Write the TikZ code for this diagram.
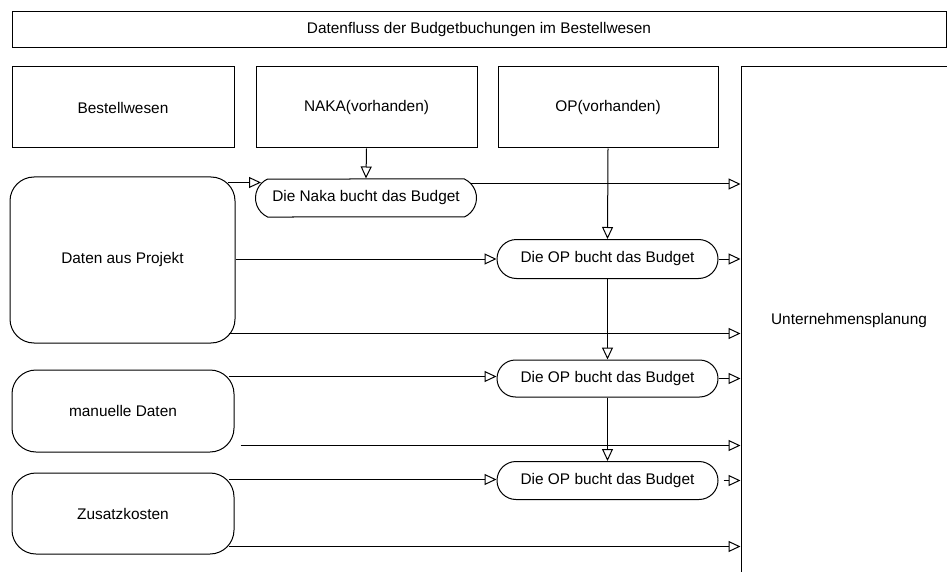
\documentclass[tikz,border=0pt]{standalone}
\usepackage{fontspec}
\setmainfont{Liberation Sans}
\usetikzlibrary{arrows.meta,shapes.misc}
\begin{document}
\begin{tikzpicture}[x=1pt,y=-1pt,
  every node/.style={font=\fontsize{15.4}{18}\selectfont, inner sep=0pt},
  box/.style={draw, line width=1pt, rectangle},
  src/.style={draw, line width=1pt, rectangle, rounded corners=24pt},
  proc/.style={draw, line width=1pt, rounded rectangle, minimum width=221pt},
  flow/.style={line width=1pt, -{Triangle[open,length=12pt,width=11pt]}},
  plain/.style={line width=1pt}]
\useasboundingbox (0,0) rectangle (947,572);
\clip (0,0) rectangle (947,572);
% title and header row
\node[box, minimum width=934pt, minimum height=36pt] (title) at (479,30) {Datenfluss der Budgetbuchungen im Bestellwesen};
\node[box, minimum width=222pt, minimum height=81pt] (besth) at (123,107.5) {Bestellwesen};
\node[box, minimum width=221pt, minimum height=81pt] (nakah) at (366.5,107.5) {NAKA(vorhanden)};
\node[box, minimum width=220pt, minimum height=81pt] (oph) at (608,107.5) {OP(vorhanden)};
\node[box, minimum width=216pt, minimum height=508pt] (plan) at (849,321) {Unternehmensplanung};
% sources
\node[src, minimum width=225pt, minimum height=166pt] (daten) at (122.5,260) {Daten aus Projekt};
\node[src, minimum width=222pt, minimum height=82pt] (man) at (123,411) {manuelle Daten};
\node[src, minimum width=222pt, minimum height=81pt] (zus) at (123,513.5) {Zusatzkosten};
% processes
\node[proc, minimum height=38pt, rounded rectangle arc length=130] (naka) at (366,198) {Die Naka bucht das Budget};
\node[proc, minimum height=39pt] (op1) at (607.5,259) {Die OP bucht das Budget};
\node[proc, minimum height=37pt] (op2) at (607.5,378.5) {Die OP bucht das Budget};
\node[proc, minimum height=38pt] (op3) at (607.5,480.5) {Die OP bucht das Budget};
% helper coordinates
\coordinate (d1) at ([shift={(-8,6)}]daten.north east);
\coordinate (n0) at ([shift={(6,-14)}]naka.west);
\coordinate (n1) at ([shift={(-6,-14)}]naka.east);
\coordinate (d3) at ([shift={(-7,-10)}]daten.south east);
\coordinate (m1) at ([shift={(-6,7)}]man.north east);
\coordinate (m2) at ([shift={(6,-7)}]man.south east);
\coordinate (z1) at ([shift={(-6,7)}]zus.north east);
\coordinate (z2) at ([shift={(-6,-8)}]zus.south east);
\coordinate (o3) at ([shift={(5,0)}]op3.east);
% vertical flows
\draw[flow] (nakah.south) -- (naka.north);
\draw[flow] (oph.south) -- (op1.north);
\draw[flow] (op1.south) -- (op2.north);
\draw[flow] (op2.south) -- (op3.north);
% horizontal flows
\draw[flow] (d1) -- (d1 -| n0);
\draw[flow] (n1) -- (n1 -| plan.west);
\draw[flow] (daten.east |- op1.west) -- (op1.west);
\draw[flow] (op1.east) -- (op1.east -| plan.west);
\draw[flow] (d3) -- (d3 -| plan.west);
\draw[flow] (m1) -- (m1 -| op2.west);
\draw[flow] (op2.east) -- (op2.east -| plan.west);
\draw[flow] (m2) -- (m2 -| plan.west);
\draw[flow] (z1) -- (z1 -| op3.west);
\draw[flow] (o3) -- (o3 -| plan.west);
\draw[flow] (z2) -- (z2 -| plan.west);
\end{tikzpicture}
\end{document}
